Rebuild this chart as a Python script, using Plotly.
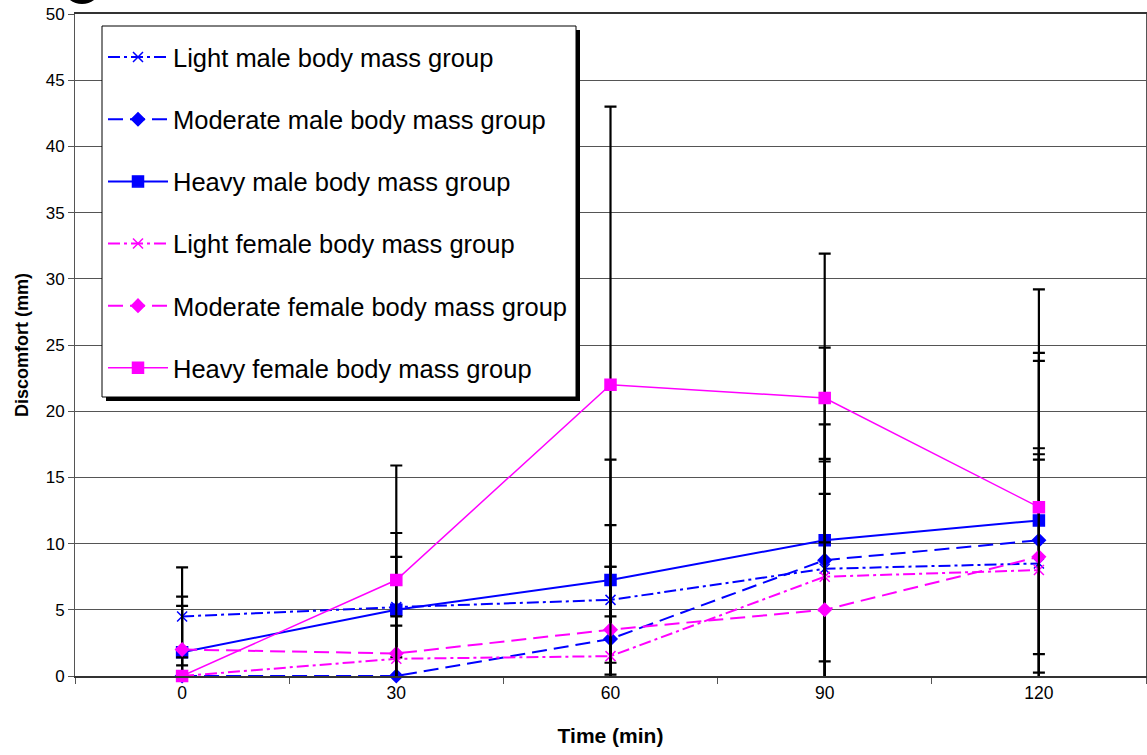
import plotly.graph_objects as go

times = ["0", "30", "60", "90", "120"]

light_male = [4.5, 5.2, 5.75, 8.1, 8.5]
light_male_sd = [3.7, 3.8, 5.65, 10.9, 8.25]
moderate_male = [0, 0, 2.8, 8.75, 10.25]
moderate_male_sd = [0, 0, 5.45, 7.65, 13.55]
heavy_male = [1.8, 5.0, 7.25, 10.25, 11.75]
heavy_male_sd = [4.2, 5.8, 9.1, 14.55, 12.65]
light_female = [0, 1.3, 1.5, 7.5, 8.0]
light_female_sd = [1.4, 2.5, 3.0, 8.7, 9.2]
moderate_female = [2.0, 1.7, 3.5, 5.0, 9.0]
moderate_female_sd = [3.3, 2.8, 4.75, 8.75, 7.35]
heavy_female = [0, 7.25, 22.0, 21.0, 12.75]
heavy_female_sd = [0, 8.65, 21.0, 10.9, 16.45]

BLUE = "#0000FF"
MAG = "#FF00FF"
DASHDOT = "12px,4px,3px,4px"
DASH = "15px,7px"

series = [
    ("Light male body mass group", light_male, light_male_sd, BLUE, DASHDOT, "x-thin-open", 10, 2),
    ("Moderate male body mass group", moderate_male, moderate_male_sd, BLUE, DASH, "diamond", 10, 2),
    ("Heavy male body mass group", heavy_male, heavy_male_sd, BLUE, "solid", "square", 11, 2),
    ("Light female body mass group", light_female, light_female_sd, MAG, DASHDOT, "x-thin-open", 10, 2),
    ("Moderate female body mass group", moderate_female, moderate_female_sd, MAG, DASH, "diamond", 10, 2),
    ("Heavy female body mass group", heavy_female, heavy_female_sd, MAG, "solid", "square", 11, 1.5),
]

fig = go.Figure()
for i, (name, vals, sd, col, dash, sym, msize, lw) in enumerate(series):
    fig.add_trace(go.Scatter(
        x=times, y=vals, name=name, mode="lines+markers",
        legendgroup=f"g{i}",
        line=dict(color=col, dash=dash, width=lw),
        marker=dict(symbol=sym, size=msize, color=col,
                    line=dict(color=col, width=1.5)),
        error_y=dict(type="data", array=sd, visible=True,
                     color="black", thickness=2.2, width=6),
        cliponaxis=False,
    ))

# plot area occupies 1071 x 662 px; helpers convert from plot-area pixel offsets
PW, PH = 1071.0, 662.0
def px(dx):
    return dx / PW
def py(dy):
    return 1 - dy / PH

# legend frame with drop shadow (drawn as shapes behind a transparent legend)
fig.add_shape(type="rect", xref="paper", yref="paper",
              x0=px(31), x1=px(505), y0=py(387), y1=py(16),
              fillcolor="black", line=dict(width=0), layer="above")
fig.add_shape(type="rect", xref="paper", yref="paper",
              x0=px(27), x1=px(501), y0=py(383), y1=py(12),
              fillcolor="white", line=dict(color="black", width=1), layer="above")
# partial panel-label circle cut off by the top edge
fig.add_shape(type="circle", xref="paper", yref="paper",
              x0=px(-11), x1=px(25), y0=py(-12), y1=py(-48),
              line=dict(color="black", width=4), layer="above")

fig.update_layout(
    width=1147, height=755,
    margin=dict(l=75, r=1, t=14, b=79),
    paper_bgcolor="white", plot_bgcolor="white",
    font=dict(family="Liberation Sans, Arial, sans-serif", color="black"),
    showlegend=True,
    legend=dict(
        x=px(28), y=py(20), xanchor="left", yanchor="top",
        bgcolor="rgba(0,0,0,0)", borderwidth=0,
        font=dict(size=25.5, color="black"),
        tracegroupgap=26, traceorder="grouped", itemwidth=60,
    ),
    xaxis=dict(
        type="category", range=[-0.5, 4.5], automargin=False,
        tickson="boundaries", ticks="outside", ticklen=6, tickcolor="#555555",
        showline=True, linecolor="#333333", linewidth=1.5, mirror=True,
        showgrid=False, tickfont=dict(size=17.5),
        title=dict(text="<b>Time (min)</b>", font=dict(size=21), standoff=27),
    ),
    yaxis=dict(
        range=[0, 50], dtick=5, ticks="outside", ticklen=6, tickcolor="#555555",
        automargin=False, ticklabeloverflow="allow",
        showline=True, linecolor="#555555", linewidth=1, mirror=True,
        showgrid=True, gridcolor="#555555", gridwidth=1,
        zeroline=False, tickfont=dict(size=17),
        title=dict(text="<b>Discomfort (mm)</b>", font=dict(size=18), standoff=12),
    ),
)

fig.write_html("out.html", config={"displayModeBar": False},
               post_script="document.body.style.margin='0';")
